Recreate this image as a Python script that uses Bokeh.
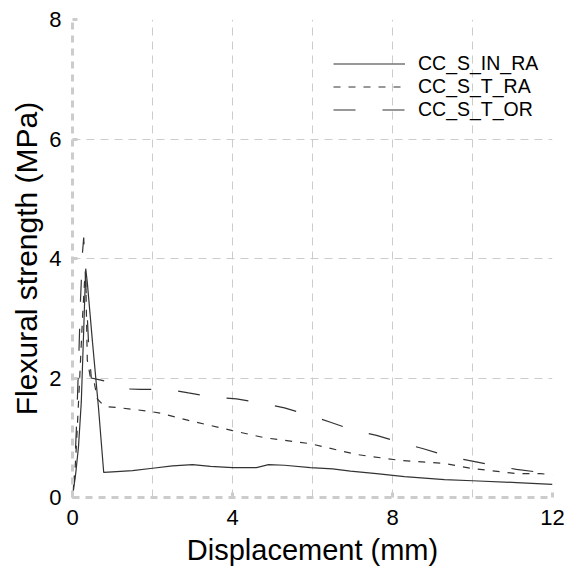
from bokeh.plotting import figure
from bokeh.models import FixedTicker, Legend, LegendItem
from bokeh.embed import file_html
from bokeh.resources import INLINE

# --- data ---
in_ra_x = [0, 0.03, 0.08, 0.15, 0.22, 0.28, 0.33, 0.37, 0.5, 0.65, 0.78, 1.0, 1.5, 2.0, 2.5,
           3.0, 3.45, 4.0, 4.6, 4.9, 5.3, 5.95, 6.5, 6.95, 7.6, 8.3, 9.3, 10.0, 11.1, 12.0]
in_ra_y = [0, 0.15, 0.4, 0.85, 1.6, 2.8, 3.83, 3.6, 2.6, 1.5, 0.42, 0.43, 0.45, 0.49, 0.53,
           0.55, 0.52, 0.50, 0.50, 0.55, 0.54, 0.50, 0.48, 0.44, 0.40, 0.35, 0.30, 0.28, 0.25, 0.22]

t_ra_x = [0, 0.05, 0.1, 0.18, 0.25, 0.3, 0.33, 0.37, 0.45, 0.55, 0.62, 0.75, 0.87, 1.2, 1.95,
          2.2, 2.9, 4.0, 4.8, 5.95, 7.1, 8.2, 9.3, 9.95, 11.1, 11.7, 12.0]
t_ra_y = [0, 0.3, 0.9, 2.0, 3.0, 3.6, 3.7, 2.3, 2.0, 1.9, 1.65, 1.56, 1.52, 1.5, 1.44,
          1.41, 1.29, 1.12, 1.0, 0.9, 0.72, 0.62, 0.57, 0.49, 0.40, 0.40, 0.38]

t_or_x = [0, 0.05, 0.1, 0.15, 0.2, 0.25, 0.28, 0.33, 0.4, 0.47, 0.6, 0.8, 1.0, 1.2, 1.7, 2.4,
          2.9, 3.5, 4.1, 4.75, 5.3, 5.9, 6.45, 7.0, 7.6, 8.2, 8.75, 9.4, 9.9, 10.5, 11.1, 11.7, 12.0]
t_or_y = [0, 0.4, 1.2, 2.2, 3.3, 4.1, 4.35, 3.6, 2.6, 2.0, 1.98, 1.95, 1.9, 1.82, 1.81, 1.81,
          1.75, 1.68, 1.65, 1.58, 1.5, 1.38, 1.26, 1.13, 1.04, 0.92, 0.82, 0.69, 0.62, 0.54, 0.47, 0.42, 0.40]

series_names = ["CC_S_IN_RA", "CC_S_T_RA", "CC_S_T_OR"]
x_ticks = [0, 4, 8, 12]
y_ticks = [0, 2, 4, 6, 8]
x_grid = [2, 4, 6, 8, 10, 12]
y_grid = [2, 4, 6, 8]

FONT = "Liberation Sans"
LINE = "#333333"
GRID = "#cccccc"

p = figure(width=566, height=569, output_backend="svg", toolbar_location=None,
           x_range=(0, 12), y_range=(0, 8),
           min_border_left=72, min_border_right=14, min_border_top=19, min_border_bottom=72)
p.outline_line_color = None
p.background_fill_color = "white"

r1 = p.line(in_ra_x, in_ra_y, line_color=LINE, line_width=1.2)
r2 = p.line(t_ra_x, t_ra_y, line_color=LINE, line_width=1.2, line_dash="7 8")
r3 = p.line(t_or_x, t_or_y, line_color=LINE, line_width=1.2, line_dash="22 27")

for ax, ticks in ((p.xaxis[0], x_ticks), (p.yaxis[0], y_ticks)):
    ax.ticker = FixedTicker(ticks=ticks)
    ax.axis_line_color = GRID
    ax.axis_line_width = 3
    ax.axis_line_dash = "7 6"
    ax.major_tick_in = 5
    ax.major_tick_out = 0
    ax.major_tick_line_color = GRID
    ax.major_tick_line_width = 3
    ax.minor_tick_line_color = None
    ax.major_label_text_font = FONT
    ax.major_label_text_font_size = "22px"
    ax.major_label_text_color = "black"
    ax.axis_label_text_font = FONT
    ax.axis_label_text_font_style = "normal"
    ax.axis_label_text_color = "black"

p.xaxis.axis_label = "Displacement (mm)"
p.yaxis.axis_label = "Flexural strength (MPa)"
p.xaxis.axis_label_text_font_size = "29px"
p.yaxis.axis_label_text_font_size = "30px"
p.xaxis.major_label_standoff = 12
p.yaxis.major_label_standoff = 11
p.xaxis.axis_label_standoff = 6
p.yaxis.axis_label_standoff = 3

p.xgrid.ticker = FixedTicker(ticks=x_grid)
p.ygrid.ticker = FixedTicker(ticks=y_grid)
for g in (p.xgrid[0], p.ygrid[0]):
    g.grid_line_color = GRID
    g.grid_line_width = 1
    g.grid_line_dash = "8 6"

legend = Legend(items=[LegendItem(label=series_names[0], renderers=[r1]),
                       LegendItem(label=series_names[1], renderers=[r2]),
                       LegendItem(label=series_names[2], renderers=[r3])],
                location=(261, 376))
legend.border_line_color = None
legend.background_fill_alpha = 0
legend.padding = 0
legend.margin = 0
legend.glyph_width = 72
legend.glyph_height = 23
legend.label_height = 23
legend.spacing = 0
legend.label_standoff = 13
legend.label_text_font = FONT
legend.label_text_font_size = "19.5px"
legend.label_text_color = "black"
p.add_layout(legend)

open("out.html", "w").write(file_html(p, INLINE))
